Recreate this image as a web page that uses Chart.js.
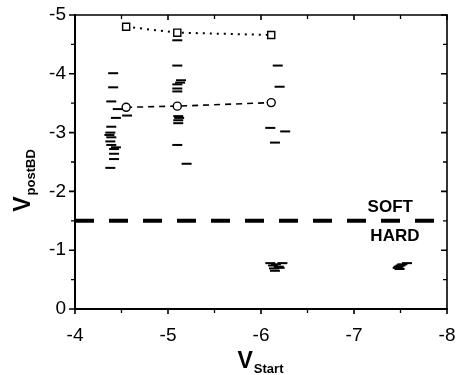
<!DOCTYPE html>
<html>
<head>
<meta charset="utf-8">
<style>
  html, body { margin: 0; padding: 0; background: #fff; }
  canvas { display: block; }
</style>
<script src="https://cdn.jsdelivr.net/npm/chart.js@4/dist/chart.umd.min.js"></script>
</head>
<body>
<canvas id="chart" width="457" height="375"></canvas>
<script>
// Individual devices: start voltage and post-breakdown voltage
const deviceStart = [
  -4.41, -4.41, -4.39, -4.46, -4.56, -4.44, -4.39, -4.38, -4.37, -4.39, -4.38, -4.39, -4.44, -4.42, -4.42, -4.42, -4.38,
  -5.10, -5.10, -5.14, -5.13, -5.10, -5.10, -5.10, -5.11, -5.12, -5.11, -5.11, -5.10, -5.20,
  -6.18, -6.20, -6.10, -6.26, -6.15,
  -6.10, -6.23, -6.16, -6.13, -6.19, -6.14, -6.20, -6.15,
  -7.57, -7.52, -7.50, -7.48, -7.47, -7.49
];
const devicePostBD = [
  -4.01, -3.77, -3.53, -3.40, -3.29, -3.25, -3.10, -3.00, -2.96, -2.92, -2.85, -2.79, -2.75, -2.72, -2.64, -2.55, -2.40,
  -4.57, -4.14, -3.89, -3.85, -3.82, -3.75, -3.70, -3.28, -3.25, -3.21, -3.16, -2.79, -2.47,
  -4.14, -3.78, -3.08, -3.02, -2.83,
  -0.78, -0.78, -0.76, -0.74, -0.72, -0.69, -0.70, -0.65,
  -0.78, -0.76, -0.74, -0.72, -0.70, -0.68
];

// Mean post-breakdown level (circles) and upper level (squares)
const meanStart = [-4.55, -5.10, -6.11];
const meanPostBD = [-3.43, -3.45, -3.51];
const upperStart = [-4.55, -5.10, -6.11];
const upperPostBD = [-4.80, -4.70, -4.66];

// Soft / hard breakdown boundary
const boundaryStart = [-4, -8];
const boundaryLevel = [-1.5, -1.5];

// Axis ticks
const xTickValues = [-4, -5, -6, -7, -8];
const xTickLabels = ['-4', '-5', '-6', '-7', '-8'];
const yTickValues = [0, -1, -2, -3, -4, -5];
const yTickLabels = ['0', '-1', '-2', '-3', '-4', '-5'];

const FONT = '"Liberation Sans", Arial, Helvetica, sans-serif';

const toPoints = (xs, ys) => xs.map((x, i) => ({ x, y: ys[i] }));

function minorValues(major) {
  const out = [];
  for (let i = 0; i < major.length - 1; i++) out.push((major[i] + major[i + 1]) / 2);
  return out;
}

// Frame with ticks: outward on left/bottom, inward on top/right
const framePlugin = {
  id: 'frame',
  afterDraw(chart) {
    const { ctx, chartArea: a, scales: { x, y } } = chart;
    ctx.save();
    ctx.strokeStyle = '#000';
    ctx.lineCap = 'butt';

    ctx.lineWidth = 2;
    ctx.beginPath();
    ctx.moveTo(a.left, a.top - 1); ctx.lineTo(a.left, a.bottom + 1);
    ctx.moveTo(a.left - 1, a.bottom); ctx.lineTo(a.right + 1, a.bottom);
    ctx.stroke();
    ctx.lineWidth = 1.6;
    ctx.beginPath();
    ctx.moveTo(a.left - 1, a.top); ctx.lineTo(a.right + 1, a.top);
    ctx.moveTo(a.right, a.top); ctx.lineTo(a.right, a.bottom + 1);
    ctx.stroke();

    const ticks = (vals, len) => {
      vals.forEach(v => {
        const px = x.getPixelForValue(v);
        ctx.moveTo(px, a.bottom); ctx.lineTo(px, a.bottom + len);
        ctx.moveTo(px, a.top); ctx.lineTo(px, a.top + len);
      });
    };
    const yticks = (vals, len) => {
      vals.forEach(v => {
        const py = y.getPixelForValue(v);
        ctx.moveTo(a.left, py); ctx.lineTo(a.left - len, py);
        ctx.moveTo(a.right, py); ctx.lineTo(a.right - len, py);
      });
    };
    ctx.lineWidth = 1.6;
    ctx.beginPath();
    ticks(xTickValues, 5);
    yticks(yTickValues, 6);
    ctx.stroke();
    ctx.lineWidth = 1.3;
    ctx.beginPath();
    ticks(minorValues(xTickValues), 4);
    yticks(minorValues(yTickValues), 4);
    ctx.stroke();

    // Axis titles with subscripts
    ctx.fillStyle = '#000';
    ctx.textBaseline = 'alphabetic';
    ctx.textAlign = 'left';
    const mainFont = 'bold 23px ' + FONT;
    const subFont = 'bold 13px ' + FONT;

    // x title
    ctx.font = mainFont;
    const wV = ctx.measureText('V').width;
    ctx.font = subFont;
    const wS = ctx.measureText('Start').width;
    const sx = (a.left + a.right) / 2 - (wV + wS) / 2 - 1;
    const base = a.bottom + 59;
    ctx.font = mainFont;
    ctx.fillText('V', sx, base);
    ctx.font = subFont;
    ctx.fillText('Start', sx + wV + 1, base + 5);

    // y title (rotated)
    ctx.font = subFont;
    const wP = ctx.measureText('postBD').width;
    ctx.save();
    ctx.translate(30, (a.top + a.bottom) / 2 + 19);
    ctx.rotate(-Math.PI / 2);
    const start = -(wV + wP) / 2;
    ctx.font = mainFont;
    ctx.fillText('V', start, 0);
    ctx.font = subFont;
    ctx.fillText('postBD', start + wV + 1, 5);
    ctx.restore();

    // Region labels
    ctx.font = 'bold 17px ' + FONT;
    ctx.textAlign = 'center';
    ctx.textBaseline = 'middle';
    ctx.fillText('SOFT', x.getPixelForValue(-7.39), y.getPixelForValue(-1.73));
    ctx.fillText('HARD', x.getPixelForValue(-7.44), y.getPixelForValue(-1.24));
    ctx.restore();
  }
};

// Keep the plot box fixed regardless of tick label overhang
const fixBox = size => s => {
  if (s.isHorizontal()) s.height = size; else s.width = size;
  s.paddingLeft = 0; s.paddingRight = 0; s.paddingTop = 0; s.paddingBottom = 0;
};

new Chart(document.getElementById('chart'), {
  type: 'scatter',
  data: {
    datasets: [
      {
        label: 'boundary',
        type: 'line',
        data: toPoints(boundaryStart, boundaryLevel),
        borderColor: '#000',
        borderWidth: 4,
        borderDash: [19, 15],
        pointRadius: 0,
        fill: false
      },
      {
        label: 'devices',
        data: toPoints(deviceStart, devicePostBD),
        pointStyle: 'line',
        pointRadius: 5,
        borderColor: '#000',
        borderWidth: 2,
        backgroundColor: '#000'
      },
      {
        label: 'mean',
        type: 'line',
        data: toPoints(meanStart, meanPostBD),
        borderColor: '#000',
        borderWidth: 1.6,
        borderDash: [6, 5],
        pointStyle: 'circle',
        pointRadius: 4,
        pointBorderWidth: 1.4,
        pointBackgroundColor: '#fff',
        pointBorderColor: '#000',
        fill: false
      },
      {
        label: 'upper',
        type: 'line',
        data: toPoints(upperStart, upperPostBD),
        borderColor: '#000',
        borderWidth: 2,
        borderDash: [2, 5],
        pointStyle: 'rect',
        pointRadius: 5,
        pointBorderWidth: 1.4,
        pointBackgroundColor: '#fff',
        pointBorderColor: '#000',
        fill: false
      }
    ]
  },
  options: {
    responsive: false,
    animation: false,
    layout: { padding: { top: 15, right: 10, left: 0, bottom: 0 } },
    plugins: { legend: { display: false }, tooltip: { enabled: false } },
    scales: {
      x: {
        type: 'linear',
        min: -8, max: -4,
        reverse: true,
        grid: { display: false, drawTicks: false },
        border: { display: false },
        afterFit: fixBox(66),
        afterBuildTicks: s => { s.ticks = xTickValues.map(v => ({ value: v })); },
        ticks: {
          padding: 15,
          color: '#000',
          font: { family: FONT, size: 19 },
          callback: v => xTickLabels[xTickValues.indexOf(v)]
        }
      },
      y: {
        type: 'linear',
        min: -5, max: 0,
        reverse: true,
        grid: { display: false, drawTicks: false },
        border: { display: false },
        afterFit: fixBox(75),
        afterBuildTicks: s => { s.ticks = yTickValues.map(v => ({ value: v })); },
        ticks: {
          padding: 9,
          color: '#000',
          font: { family: FONT, size: 19 },
          callback: v => yTickLabels[yTickValues.indexOf(v)]
        }
      }
    }
  },
  plugins: [framePlugin]
});
</script>
</body>
</html>
